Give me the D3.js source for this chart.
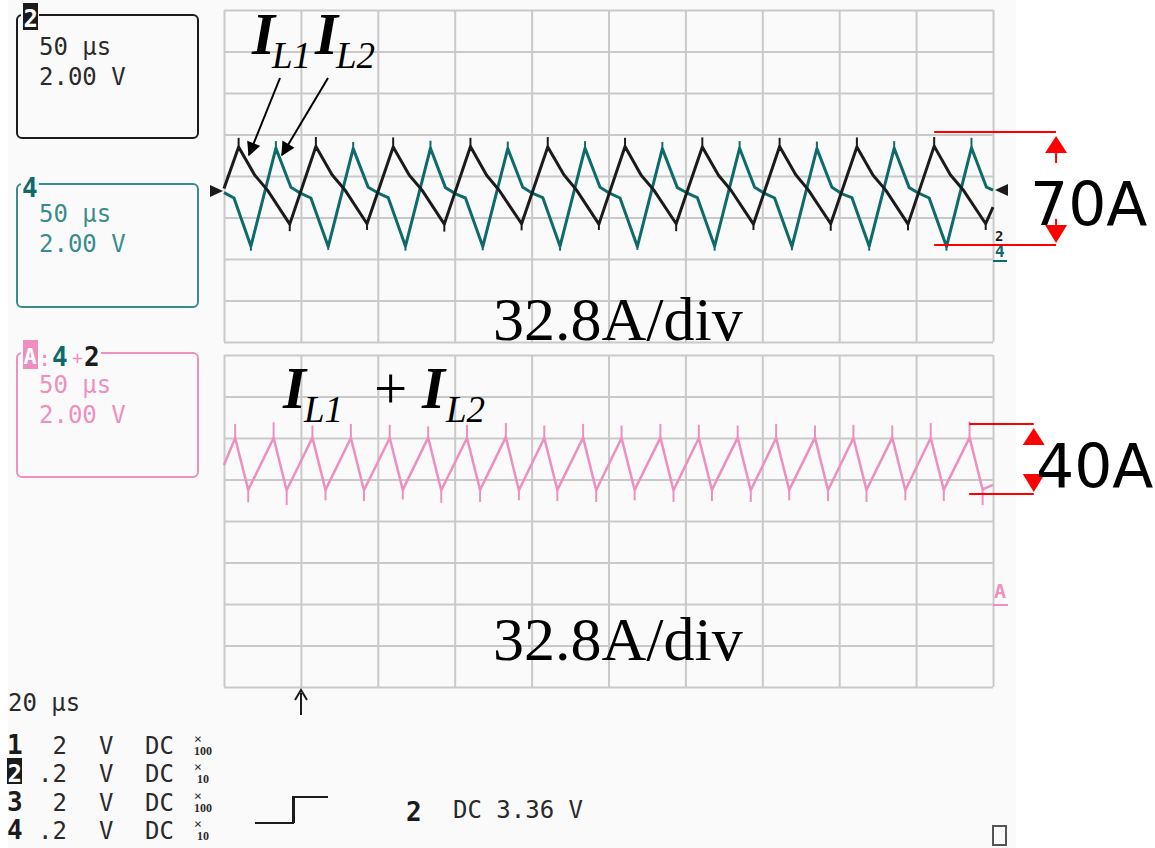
<!DOCTYPE html>
<html>
<head>
<meta charset="utf-8">
<script src="https://cdn.jsdelivr.net/npm/d3@7"></script>
<style>
	body { margin: 0; background: #fff; }
	svg { display: block; }
</style>
</head>
<body>
<svg id="chart" width="1155" height="848"></svg>
<script>
// time in microseconds (20 us/div), values in divisions from screen centre
const gridTimes = d3.range(0, 201, 20);
const gridDivs = d3.range(-4, 5, 1);

// I_L1 (channel 2, black)
const iL1 = [
	[0, -0.30], [3.8, 0.70], [8.0, 0.02], [11.3, -0.34], [17.1, -1.16],
	[23.9, 0.71], [28.1, 0.03], [31.4, -0.33], [37.2, -1.15],
	[44.0, 0.70], [48.2, 0.02], [51.5, -0.34], [57.3, -1.16],
	[64.1, 0.71], [68.3, 0.02], [71.6, -0.35], [77.4, -1.15],
	[84.2, 0.70], [88.4, 0.03], [91.7, -0.34], [97.5, -1.16],
	[104.3, 0.71], [108.5, 0.02], [111.8, -0.34], [117.6, -1.15],
	[124.4, 0.70], [128.6, 0.02], [131.9, -0.35], [137.7, -1.16],
	[144.5, 0.71], [148.7, 0.03], [152.0, -0.34], [157.8, -1.15],
	[164.6, 0.70], [168.8, 0.02], [172.1, -0.34], [177.9, -1.16],
	[184.7, 0.72], [188.9, 0.03], [192.2, -0.33], [198.1, -1.15], [200, -0.75]
];
const iL1Spikes = [
	[3.8, 0.70, 0.92], [23.9, 0.71, 0.94], [44.0, 0.70, 0.93], [64.1, 0.71, 0.92], [84.2, 0.70, 0.94],
	[104.3, 0.71, 0.92], [124.4, 0.70, 0.93], [144.5, 0.71, 0.92], [164.6, 0.70, 0.93], [184.7, 0.72, 0.94],
	[17.1, -1.16, -1.33], [37.2, -1.15, -1.30], [57.3, -1.16, -1.34], [77.4, -1.15, -1.31], [97.5, -1.16, -1.30],
	[117.6, -1.15, -1.33], [137.7, -1.16, -1.30], [157.8, -1.15, -1.32], [177.9, -1.16, -1.31], [198.1, -1.15, -1.30]
];

// I_L2 (channel 4, teal)
const iL2 = [
	[0, -0.40], [2.6, -0.53], [7.0, -1.69], [13.5, 0.67], [17.4, -0.27], [20.0, -0.42], [22.6, -0.53],
	[27.1, -1.70], [33.6, 0.66], [37.5, -0.27], [40.1, -0.41], [42.7, -0.52],
	[47.2, -1.69], [53.7, 0.67], [57.6, -0.28], [60.2, -0.43], [62.8, -0.53],
	[67.3, -1.70], [73.8, 0.66], [77.7, -0.27], [80.3, -0.42], [82.9, -0.52],
	[87.4, -1.69], [93.9, 0.67], [97.8, -0.27], [100.4, -0.42], [103.0, -0.53],
	[107.5, -1.70], [114.0, 0.66], [117.9, -0.28], [120.5, -0.41], [123.1, -0.52],
	[127.6, -1.69], [134.1, 0.67], [138.0, -0.27], [140.6, -0.42], [143.2, -0.53],
	[147.7, -1.70], [154.2, 0.66], [158.1, -0.27], [160.7, -0.43], [163.3, -0.52],
	[167.8, -1.69], [174.3, 0.67], [178.2, -0.28], [180.8, -0.42], [183.4, -0.53],
	[187.9, -1.70], [194.4, 0.68], [198.3, -0.27], [200, -0.34]
];
const iL2Spikes = [
	[13.5, 0.67, 0.84], [33.6, 0.66, 0.82], [53.7, 0.67, 0.85], [73.8, 0.66, 0.83], [93.9, 0.67, 0.84],
	[114.0, 0.66, 0.82], [134.1, 0.67, 0.84], [154.2, 0.66, 0.83], [174.3, 0.67, 0.84], [194.4, 0.68, 0.92],
	[7.0, -1.69, -1.80], [27.1, -1.70, -1.78], [47.2, -1.69, -1.80], [67.3, -1.70, -1.79], [87.4, -1.69, -1.80],
	[107.5, -1.70, -1.78], [127.6, -1.69, -1.80], [147.7, -1.70, -1.79], [167.8, -1.69, -1.80], [187.9, -1.70, -1.80]
];

// I_L1 + I_L2 (math A = 4 + 2, pink)
const iSum = [
	[0, 1.35], [2.9, 2.00], [6.3, 0.75], [12.9, 2.00], [16.3, 0.74], [23.0, 2.01], [26.4, 0.75],
	[33.0, 2.00], [36.4, 0.74], [43.1, 2.00], [46.5, 0.75], [53.1, 2.01], [56.5, 0.74],
	[63.2, 2.00], [66.6, 0.75], [73.3, 2.02], [76.7, 0.74], [83.3, 2.00], [86.7, 0.75],
	[93.4, 2.01], [96.8, 0.74], [103.4, 2.00], [106.8, 0.75], [113.5, 2.01], [116.9, 0.74],
	[123.5, 2.00], [126.9, 0.75], [133.6, 2.01], [137.0, 0.74], [143.6, 2.00], [147.0, 0.75],
	[153.7, 2.01], [157.1, 0.74], [163.7, 2.00], [167.1, 0.75], [173.8, 2.01], [177.2, 0.74],
	[183.8, 2.00], [187.2, 0.75], [193.9, 2.01], [197.3, 0.76], [200, 0.87]
];
const iSumSpikes = [
	[2.9, 2.00, 2.34], [12.9, 2.00, 2.38], [23.0, 2.01, 2.30], [33.0, 2.00, 2.34], [43.1, 2.00, 2.32],
	[53.1, 2.01, 2.28], [63.2, 2.00, 2.32], [73.3, 2.02, 2.36], [83.3, 2.00, 2.30], [93.4, 2.01, 2.34],
	[103.4, 2.00, 2.30], [113.5, 2.01, 2.34], [123.5, 2.00, 2.32], [133.6, 2.01, 2.30], [143.6, 2.00, 2.34],
	[153.7, 2.01, 2.30], [163.7, 2.00, 2.32], [173.8, 2.01, 2.30], [183.8, 2.00, 2.36], [193.9, 2.01, 2.40],
	[6.3, 0.75, 0.45], [16.3, 0.74, 0.38], [26.4, 0.75, 0.50], [36.4, 0.74, 0.48], [46.5, 0.75, 0.52],
	[56.5, 0.74, 0.44], [66.6, 0.75, 0.46], [76.7, 0.74, 0.50], [86.7, 0.75, 0.48], [96.8, 0.74, 0.46],
	[106.8, 0.75, 0.50], [116.9, 0.74, 0.46], [126.9, 0.75, 0.48], [137.0, 0.74, 0.46], [147.0, 0.75, 0.50],
	[157.1, 0.74, 0.48], [167.1, 0.75, 0.46], [177.2, 0.74, 0.50], [187.2, 0.75, 0.48], [197.3, 0.76, 0.38]
];

// channel readout rows at the bottom
const chanNames = ['1', '2', '3', '4'];
const chanVolts = ['2', '.2', '2', '.2'];
const chanProbe = ['100', '10', '100', '10'];

const colors = { black: '#1b1b1b', teal: '#0e6b6b', tealBox: '#3a8c8c', pink: '#ee8fc0', grid: '#c9c9c9', red: '#ff0000', text: '#2a2a2a' };
const monoFont = 'DejaVu Sans Mono, monospace';
const serifFont = 'Liberation Serif, Times New Roman, serif';

const svg = d3.select('#chart');

svg.append('rect').attr('x', 8).attr('y', 0).attr('width', 1008).attr('height', 848).attr('fill', '#fafafa');

const x = d3.scaleLinear().domain([0, 200]).range([224, 993]);
const yTop = d3.scaleLinear().domain([-4, 4]).range([342, 10]);
const yBot = d3.scaleLinear().domain([-4, 4]).range([687, 355]);

function drawGrid(y) {
	let g = svg.append('g');
	let h = y(-4) - y(4);
	let w = x(200) - x(0);
	g.append('g')
		.attr('transform', 'translate(0,' + y(-4) + ')')
		.call(d3.axisBottom(x).tickValues(gridTimes).tickSize(h).tickSizeOuter(0).tickFormat(''))
		.call(a => a.selectAll('.tick line').attr('y2', -h));
	g.append('g')
		.attr('transform', 'translate(' + x(0) + ',0)')
		.call(d3.axisLeft(y).tickValues(gridDivs).tickSize(-w).tickSizeOuter(0).tickFormat(''));
	g.selectAll('.domain').remove();
	g.selectAll('line').attr('stroke', colors.grid).attr('stroke-width', 2);
}
drawGrid(yTop);
drawGrid(yBot);

function drawTrace(data, spikes, y, color, width) {
	let line = d3.line()
		.x(d => x(d[0]))
		.y(d => y(d[1]));
	svg.append('path')
		.datum(data)
		.attr('d', line)
		.attr('fill', 'none')
		.attr('stroke', color)
		.attr('stroke-width', width)
		.attr('stroke-linejoin', 'round');
	svg.append('g').selectAll('line')
		.data(spikes)
		.enter().append('line')
		.attr('x1', d => x(d[0])).attr('x2', d => x(d[0]))
		.attr('y1', d => y(d[1])).attr('y2', d => y(d[2]))
		.attr('stroke', color)
		.attr('stroke-width', 2);
}
drawTrace(iL2, iL2Spikes, yTop, colors.teal, 3);
drawTrace(iL1, iL1Spikes, yTop, colors.black, 3);
drawTrace(iSum, iSumSpikes, yBot, colors.pink, 2.5);

// channel boxes on the left
function drawBox(top, bottom, stroke) {
	svg.append('rect')
		.attr('x', 17).attr('y', top).attr('width', 181).attr('height', bottom - top)
		.attr('rx', 5).attr('fill', 'none').attr('stroke', stroke).attr('stroke-width', 2);
}
function scopeText(str, px, py, color, size, weight) {
	return svg.append('text')
		.attr('x', px).attr('y', py)
		.attr('font-family', monoFont)
		.attr('font-size', size || 24)
		.attr('font-weight', weight || 'normal')
		.attr('fill', color)
		.text(str);
}

drawBox(15, 138, colors.black);
svg.append('rect').attr('x', 21).attr('y', 2).attr('width', 18).attr('height', 29).attr('fill', '#fafafa');
svg.append('rect').attr('x', 23).attr('y', 3).attr('width', 15).attr('height', 27).attr('fill', colors.black);
scopeText('2', 23.5, 27, '#fff', 24, 'bold');
scopeText('50 µs', 39, 55, colors.text);
scopeText('2.00 V', 39, 85, colors.text);

drawBox(184, 307, colors.tealBox);
svg.append('rect').attr('x', 21).attr('y', 174).attr('width', 18).attr('height', 24).attr('fill', '#fafafa');
scopeText('4', 22, 197, colors.teal, 26, 'bold');
scopeText('50 µs', 39, 222, colors.tealBox);
scopeText('2.00 V', 39, 252, colors.tealBox);

drawBox(353, 477, colors.pink);
svg.append('rect').attr('x', 21).attr('y', 338).attr('width', 80).attr('height', 32).attr('fill', '#fafafa');
svg.append('rect').attr('x', 23).attr('y', 340).attr('width', 15).attr('height', 29).attr('fill', colors.pink);
scopeText('A', 23.5, 364, '#fff', 22, 'bold');
scopeText(':', 38, 366, colors.pink, 22);
scopeText('4', 52, 366, colors.teal, 26, 'bold');
scopeText('+', 72, 364, colors.pink, 18);
scopeText('2', 84, 366, colors.black, 26, 'bold');
scopeText('50 µs', 39, 393, colors.pink);
scopeText('2.00 V', 39, 423, colors.pink);

// ground / trigger markers
svg.append('path').attr('d', 'M210,185 L223,191 L210,197 Z').attr('fill', colors.black);
svg.append('path').attr('d', 'M1008,184 L995,190 L1008,196 Z').attr('fill', colors.black);
scopeText('2', 995, 241, colors.black, 14, 'bold');
scopeText('4', 995, 257, colors.teal, 16, 'bold');
svg.append('line').attr('x1', 993).attr('x2', 1007).attr('y1', 261).attr('y2', 261).attr('stroke', colors.teal).attr('stroke-width', 2);
scopeText('A', 994, 598, colors.pink, 20, 'bold');
svg.append('line').attr('x1', 993).attr('x2', 1008).attr('y1', 605).attr('y2', 605).attr('stroke', colors.pink).attr('stroke-width', 2);

// trigger point arrow
svg.append('line').attr('x1', 301).attr('x2', 301).attr('y1', 715).attr('y2', 693).attr('stroke', colors.black).attr('stroke-width', 2);
svg.append('path').attr('d', 'M295,700 L301,690 L307,700').attr('fill', 'none').attr('stroke', colors.black).attr('stroke-width', 2);

// bottom readout
scopeText('20 µs', 8, 711, colors.text);
let rowBase = [754, 782, 811, 839];
chanNames.forEach(function(name, i) {
	let by = rowBase[i];
	if (name === '2') {
		svg.append('rect').attr('x', 7).attr('y', by - 24).attr('width', 15).attr('height', 26).attr('fill', colors.black);
		scopeText(name, 7.5, by, '#fff', 24, 'bold');
	} else {
		scopeText(name, 7, by, colors.black, 26, 'bold');
	}
	scopeText(chanVolts[i], 67, by, colors.text).attr('text-anchor', 'end');
	scopeText('V', 99, by, colors.text);
	scopeText('DC', 145, by, colors.text);
	scopeText('×', 194, by - 11, colors.text, 13);
	svg.append('text').attr('x', 203).attr('y', by + 1).attr('text-anchor', 'middle')
		.attr('font-family', serifFont).attr('font-size', 12).attr('font-weight', 'bold')
		.attr('fill', colors.text).text(chanProbe[i]);
});
svg.append('path').attr('d', 'M255,823 L293,823 L293,797 L328,797').attr('fill', 'none').attr('stroke', colors.black).attr('stroke-width', 2);
svg.append('line').attr('x1', 294).attr('x2', 294).attr('y1', 797).attr('y2', 823).attr('stroke', colors.black).attr('stroke-width', 2);
scopeText('2', 406, 821, colors.black, 26, 'bold');
scopeText('DC 3.36 V', 453, 818, colors.text);
svg.append('rect').attr('x', 993).attr('y', 826).attr('width', 13).attr('height', 19).attr('fill', 'none').attr('stroke', '#555').attr('stroke-width', 2);

// annotations
function subLabel(parts, baseY) {
	parts.forEach(function(p) {
		svg.append('text')
			.attr('x', p.x).attr('y', p.sub ? baseY + 14 : baseY)
			.attr('font-family', serifFont)
			.attr('font-style', p.italic ? 'italic' : 'normal')
			.attr('font-weight', p.bold ? 'bold' : 'normal')
			.attr('font-size', p.sub ? 37 : 59)
			.attr('fill', '#000')
			.text(p.t);
	});
}
subLabel([
	{ t: 'I', x: 252, italic: true, bold: true },
	{ t: 'L1', x: 272, italic: true, sub: true },
	{ t: 'I', x: 315, italic: true, bold: true },
	{ t: 'L2', x: 336, italic: true, sub: true }
], 54);
subLabel([
	{ t: 'I', x: 283, italic: true, bold: true },
	{ t: 'L1', x: 304, italic: true, sub: true },
	{ t: '+', x: 374 },
	{ t: 'I', x: 422, italic: true, bold: true },
	{ t: 'L2', x: 446, italic: true, sub: true }
], 408);

svg.append('defs').append('marker')
	.attr('id', 'head').attr('viewBox', '0 0 10 10').attr('refX', 9).attr('refY', 5)
	.attr('markerWidth', 8).attr('markerHeight', 7).attr('markerUnits', 'strokeWidth').attr('orient', 'auto')
	.append('path').attr('d', 'M0,0 L10,5 L0,10 Z').attr('fill', '#000');
svg.append('line').attr('x1', 280).attr('y1', 78).attr('x2', 249).attr('y2', 155)
	.attr('stroke', '#000').attr('stroke-width', 2).attr('marker-end', 'url(#head)');
svg.append('line').attr('x1', 328).attr('y1', 78).attr('x2', 282).attr('y2', 155)
	.attr('stroke', '#000').attr('stroke-width', 2).attr('marker-end', 'url(#head)');

svg.append('text').attr('x', 493).attr('y', 340).attr('font-family', serifFont).attr('font-size', 62).attr('fill', '#000').text('32.8A/div');
svg.append('text').attr('x', 493).attr('y', 660).attr('font-family', serifFont).attr('font-size', 62).attr('fill', '#000').text('32.8A/div');

// peak-to-peak markers (red)
function redSpan(y, t0, t1, vTop, vBot, arrowT, gapTop, gapBot) {
	let ax = x(arrowT);
	let yt = y(vTop), yb = y(vBot);
	svg.append('line').attr('x1', x(t0)).attr('x2', ax).attr('y1', yt).attr('y2', yt).attr('stroke', colors.red).attr('stroke-width', 2);
	svg.append('line').attr('x1', x(t0)).attr('x2', ax).attr('y1', yb).attr('y2', yb).attr('stroke', colors.red).attr('stroke-width', 2);
	svg.append('path').attr('d', 'M' + ax + ',' + (yt + 4) + ' L' + (ax + 11) + ',' + (yt + 21) + ' L' + (ax - 11) + ',' + (yt + 21) + ' Z').attr('fill', colors.red);
	svg.append('path').attr('d', 'M' + ax + ',' + (yb - 2) + ' L' + (ax + 11) + ',' + (yb - 20) + ' L' + (ax - 11) + ',' + (yb - 20) + ' Z').attr('fill', colors.red);
	if (gapTop) svg.append('line').attr('x1', ax).attr('x2', ax).attr('y1', yt + 21).attr('y2', yt + 21 + gapTop).attr('stroke', colors.red).attr('stroke-width', 2);
	if (gapBot) svg.append('line').attr('x1', ax).attr('x2', ax).attr('y1', yb - 20).attr('y2', yb - 20 - gapBot).attr('stroke', colors.red).attr('stroke-width', 2);
}
redSpan(yTop, 184.7, 216.4, 1.06, -1.66, 216.4, 10, 6);
redSpan(yBot, 193.8, 210.6, 2.34, 0.65, 210.6, 0, 0);

svg.append('text').attr('x', 1030).attr('y', 225).attr('font-family', 'DejaVu Sans, sans-serif').attr('font-size', 60).attr('fill', '#000').text('70A');
svg.append('text').attr('x', 1036).attr('y', 487).attr('font-family', 'DejaVu Sans, sans-serif').attr('font-size', 60).attr('fill', '#000').text('40A');
</script>
</body>
</html>
